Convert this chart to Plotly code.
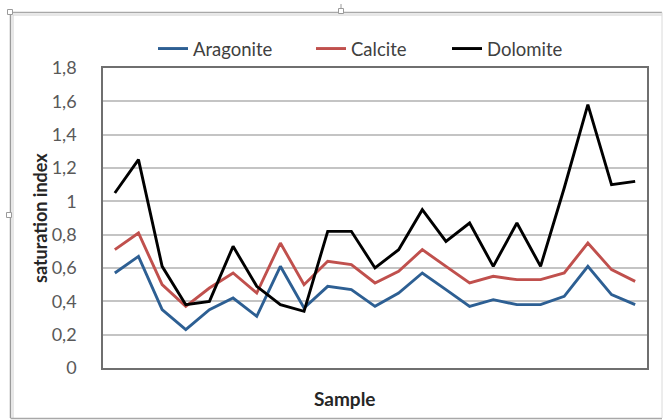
import plotly.graph_objects as go

# Saturation indices per sample
samples = list(range(1, 24))
aragonite = [0.57, 0.67, 0.35, 0.23, 0.35, 0.42, 0.31, 0.61, 0.36, 0.49, 0.47, 0.37,
             0.45, 0.57, 0.47, 0.37, 0.41, 0.38, 0.38, 0.43, 0.61, 0.44, 0.38]
calcite = [0.71, 0.81, 0.50, 0.37, 0.48, 0.57, 0.45, 0.75, 0.50, 0.64, 0.62, 0.51,
           0.58, 0.71, 0.61, 0.51, 0.55, 0.53, 0.53, 0.57, 0.75, 0.59, 0.52]
dolomite = [1.05, 1.25, 0.61, 0.38, 0.40, 0.73, 0.49, 0.38, 0.34, 0.82, 0.82, 0.60,
            0.71, 0.95, 0.76, 0.87, 0.61, 0.87, 0.61, 1.08, 1.58, 1.10, 1.12]

W, H = 666, 420
L, R, T, B = 103, 19, 68, 52
PW, PH = W - L - R, H - T - B

FONT = "Lato"


def px(x):
    return (x - L) / PW


def py(y):
    return (H - B - y) / PH


fig = go.Figure()
series = [
    ("Aragonite", aragonite, "#2d5f93", "legend"),
    ("Calcite", calcite, "#c0504d", "legend2"),
    ("Dolomite", dolomite, "#000000", "legend3"),
]
for name, vals, color, lg in series:
    fig.add_trace(go.Scatter(
        x=samples, y=vals, name=name, mode="lines",
        line=dict(color=color, width=2.9),
        legend=lg,
    ))

legend_common = dict(
    orientation="h", yanchor="middle", xanchor="left",
    font=dict(family=FONT, size=18.5, color="#404040"),
    bgcolor="rgba(0,0,0,0)", borderwidth=0,
)

# Frame around the whole chart
frame = [
    (10.5, 12.5, 10.5, 418, "#9a9a9a", 1.5),
    (13, 15, 13, 418, "#cfcfcf", 1),
    (10.5, 12.5, 662, 12.5, "#a8a8a8", 1.5),
    (13, 15, 662, 15, "#cfcfcf", 1),
    (10.5, 418.5, 662, 418.5, "#a8a8a8", 1.5),
    (662, 12.5, 662, 418, "#dadada", 1),
]
shapes = []
for x0, y0, x1, y1, c, w in frame:
    shapes.append(dict(type="line", xref="paper", yref="paper",
                       x0=px(x0), y0=py(y0), x1=px(x1), y1=py(y1),
                       line=dict(color=c, width=w)))
# resize handles
for cx, cy in [(10, 12), (341, 11), (9, 215)]:
    shapes.append(dict(type="rect", xref="paper", yref="paper",
                       x0=px(cx - 2.5), x1=px(cx + 2.5), y0=py(cy + 2.5), y1=py(cy - 2.5),
                       line=dict(color="#9a9a9a", width=1), fillcolor="white"))
shapes.append(dict(type="line", xref="paper", yref="paper",
                   x0=px(341), x1=px(341), y0=py(8.5), y1=py(4),
                   line=dict(color="#9a9a9a", width=1)))

fig.update_layout(
    width=W, height=H,
    margin=dict(l=L, r=R, t=T, b=B, pad=0),
    paper_bgcolor="white", plot_bgcolor="white",
    separators=", ",
    font=dict(family=FONT, color="#595959"),
    showlegend=True,
    legend=dict(legend_common, x=px(153), y=py(49)),
    legend2=dict(legend_common, x=px(311), y=py(49)),
    legend3=dict(legend_common, x=px(447), y=py(49)),
    xaxis=dict(
        range=[0.5, 23.5], showticklabels=False, ticks="",
        showgrid=False, zeroline=False,
        showline=True, mirror=True, linecolor="#6f6f6f", linewidth=1.5,
    ),
    yaxis=dict(
        range=[0, 1.8], dtick=0.2, tick0=0,
        showgrid=True, gridcolor="#c4c4c4", gridwidth=1.5,
        zeroline=False,
        showline=True, mirror=True, linecolor="#6f6f6f", linewidth=1.5,
        ticks="", ticklabelstandoff=21,
        tickfont=dict(family=FONT, size=18, color="#595959"),
    ),
    shapes=shapes,
    annotations=[
        dict(text="saturation index", xref="paper", yref="paper",
             x=px(40), y=0.5, xanchor="center", yanchor="middle",
             textangle=-90, showarrow=False,
             font=dict(family=FONT, size=18, color="#262626", weight="bold")),
        dict(text="Sample", xref="paper", yref="paper",
             x=px(344.5), y=py(398), xanchor="center", yanchor="middle",
             showarrow=False,
             font=dict(family=FONT, size=19, color="#262626", weight="bold")),
    ],
)

fig.write_html("out.html")
